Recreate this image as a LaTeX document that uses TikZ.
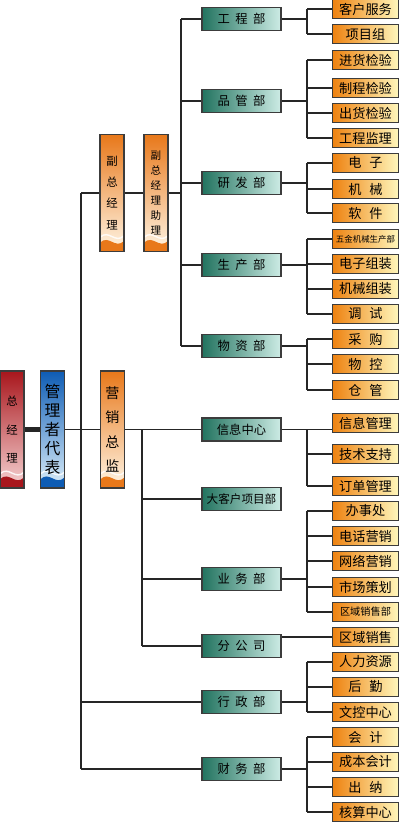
\documentclass[tikz,border=0pt]{standalone}
\usepackage{fontspec}
\setmainfont{Noto Sans CJK SC}
\usetikzlibrary{positioning}
\usepackage{xcolor}
\definecolor{TealDark}{HTML}{22735F}
\definecolor{TealLight}{HTML}{CDECE5}
\definecolor{SubOrange}{HTML}{EE8210}
\definecolor{SubPale}{HTML}{FFF7BC}
\definecolor{BanOrange}{HTML}{E8781A}
\definecolor{BanYellow}{HTML}{FFF000}
\definecolor{BanPale}{HTML}{FFF6E6}
\definecolor{RedDark}{HTML}{A8161C}
\definecolor{RedPale}{HTML}{F7D4D4}
\definecolor{BlueDark}{HTML}{0E5CB4}
\definecolor{BluePale}{HTML}{DDEFFA}
\definecolor{EdgeGray}{HTML}{3C3C3C}
\newcommand\chgap{\hspace{.45em}}

\tikzset{
  wave/.style={path picture={
    \fill[#1] (path picture bounding box.south west) -- ([yshift=5pt]path picture bounding box.south west)
      .. controls ([xshift=5pt,yshift=10pt]path picture bounding box.south west) and ([xshift=-5pt,yshift=1pt]path picture bounding box.south east)
      .. ([yshift=6pt]path picture bounding box.south east) -- (path picture bounding box.south east) -- cycle;
    \draw[white,line width=.8pt,opacity=.85] ([yshift=8pt]path picture bounding box.south west)
      .. controls ([xshift=5pt,yshift=13pt]path picture bounding box.south west) and ([xshift=-5pt,yshift=4pt]path picture bounding box.south east)
      .. ([yshift=9pt]path picture bounding box.south east);}},
  banner/.style={draw=EdgeGray,line width=.6pt,minimum width=.48cm,minimum height=2.34cm,
    inner sep=0pt,align=center},
  redbanner/.style={banner,top color=RedDark,bottom color=RedPale,wave=RedDark},
  bluebanner/.style={banner,top color=BlueDark,bottom color=BluePale,wave=BlueDark},
  orangebanner/.style={banner,top color=BanOrange,middle color=BanYellow,bottom color=BanPale,wave=BanOrange},
  dept/.style={draw=EdgeGray,line width=.6pt,left color=TealDark,right color=TealLight,
    minimum width=1.58cm,minimum height=.46cm,inner sep=0pt,font=\fontsize{7}{8}\selectfont},
  unit/.style={draw=EdgeGray,line width=.6pt,left color=SubOrange,right color=SubPale,
    minimum width=1.32cm,minimum height=.37cm,inner sep=0pt,font=\fontsize{7.5}{8}\selectfont},
  link/.style={line width=1pt,draw=black!85}
}

\begin{document}
\begin{tikzpicture}[x=0.02cm,y=-0.02cm]
  \useasboundingbox (0,0) rectangle (400,822);

  % banners
  \node[redbanner,font=\fontsize{6.5}{16}\selectfont] (zjl) at (12,429.5) {总\\经\\理};
  \node[bluebanner,font=\fontsize{9}{10.8}\selectfont] (glz) at (52.5,429.5) {管\\理\\者\\代\\表};
  \node[orangebanner,font=\fontsize{6.5}{12}\selectfont] (fzjl) at (112,193) {副\\总\\经\\理};
  \node[orangebanner,font=\fontsize{6}{8.5}\selectfont] (fzzl) at (156,193) {副\\总\\经\\理\\助\\理};
  \node[orangebanner,font=\fontsize{8}{14}\selectfont] (yxzj) at (112.5,429.5) {营\\销\\总\\监};

  % trunk lines
  \coordinate (trunk) at (81,0);
  \coordinate (rd) at (181,0);
  \coordinate (mk) at (142,0);
  \coordinate (sub) at (307,0);

  % departments
  \node[dept] (gcb) at (241.5,19) {工\chgap 程\chgap 部};
  \node[dept] (pgb) at (241.5,101) {品\chgap 管\chgap 部};
  \node[dept] (yfb) at (241.5,183) {研\chgap 发\chgap 部};
  \node[dept] (scb) at (241.5,265) {生\chgap 产\chgap 部};
  \node[dept] (wzb) at (241.5,346) {物\chgap 资\chgap 部};
  \node[dept] (xxzx) at (241.5,429.5) {信息中心};
  \node[dept,font=\fontsize{6.6}{8}\selectfont] (dkh) at (241.5,499) {大客户项目部};
  \node[dept] (ywb) at (241.5,579) {业\chgap 务\chgap 部};
  \node[dept] (fgs) at (241.5,646) {分\chgap 公\chgap 司};
  \node[dept] (xzb) at (241.5,702) {行\chgap 政\chgap 部};
  \node[dept] (cwb) at (241.5,769) {财\chgap 务\chgap 部};

  % units
  \node[unit] (khfw) at (365.5,9) {客户服务};
  \node[unit] (xmz) at (365.5,34) {项目组};
  \node[unit] (jhjy) at (365.5,60) {进货检验};
  \node[unit] (zcjy) at (365.5,88) {制程检验};
  \node[unit] (chjy) at (365.5,113) {出货检验};
  \node[unit] (gcjl) at (365.5,138) {工程监理};
  \node[unit] (dz) at (365.5,163) {电\hspace{.6em}子};
  \node[unit] (jx) at (365.5,189) {机\hspace{.6em}械};
  \node[unit] (rj) at (365.5,213) {软\hspace{.6em}件};
  \node[unit,font=\fontsize{4.8}{6}\selectfont] (wjsc) at (365.5,239) {五金机械生产部};
  \node[unit] (dzzz) at (365.5,264) {电子组装};
  \node[unit] (jxzz) at (365.5,289) {机械组装};
  \node[unit] (ts) at (365.5,314) {调\hspace{.6em}试};
  \node[unit] (cg) at (365.5,339) {采\hspace{.6em}购};
  \node[unit] (wk) at (365.5,364) {物\hspace{.6em}控};
  \node[unit] (cgu) at (365.5,390) {仓\hspace{.6em}管};
  \node[unit] (xxgl) at (365.5,423) {信息管理};
  \node[unit] (jszc) at (365.5,454) {技术支持};
  \node[unit] (ddgl) at (365.5,486) {订单管理};
  \node[unit] (bsc) at (365.5,511) {办事处};
  \node[unit] (dhyx) at (365.5,536) {电话营销};
  \node[unit] (wlyx) at (365.5,561) {网络营销};
  \node[unit] (scch) at (365.5,587) {市场策划};
  \node[unit,font=\fontsize{5.8}{7}\selectfont] (qyxsb) at (365.5,612) {区域销售部};
  \node[unit] (qyxs) at (365.5,637) {区域销售};
  \node[unit] (rlzy) at (365.5,662) {人力资源};
  \node[unit] (hq) at (365.5,687) {后\hspace{.6em}勤};
  \node[unit] (wkzx) at (365.5,712) {文控中心};
  \node[unit] (kj) at (365.5,737) {会\hspace{.6em}计};
  \node[unit] (cbkj) at (365.5,762) {成本会计};
  \node[unit] (cn) at (365.5,787) {出\hspace{.6em}纳};
  \node[unit] (hszx) at (365.5,812) {核算中心};

  % top level links
  \draw[link,line width=2.6pt] (zjl.east) -- (glz.west);
  \draw[link] (glz.east) -- (yxzj.west);
  \draw[link] (trunk |- fzjl) -- (trunk |- cwb);
  \draw[link] (trunk |- fzjl) -- (fzjl.west);
  \draw[link] (fzjl.east) -- (fzzl.west);
  \draw[link] (fzzl.east) -- (rd |- fzzl);
  \foreach \d in {xzb,cwb} \draw[link] (trunk |- \d) -- (\d.west);
  \draw[link] (rd |- gcb) -- (rd |- wzb);
  \foreach \d in {gcb,pgb,yfb,scb,wzb} \draw[link] (rd |- \d) -- (\d.west);
  \draw[link] (yxzj.east) -- (xxzx.west);
  \draw[link] (mk |- yxzj) -- (mk |- fgs);
  \foreach \d in {dkh,ywb,fgs} \draw[link] (mk |- \d) -- (\d.west);

  % department to unit links
  \draw[link] (gcb.east) -- (sub |- gcb) (sub |- khfw) -- (sub |- xmz);
  \foreach \k in {khfw,xmz} \draw[link] (sub |- \k) -- (\k.west);
  \draw[link] (pgb.east) -- (sub |- pgb) (sub |- jhjy) -- (sub |- gcjl);
  \foreach \k in {jhjy,zcjy,chjy,gcjl} \draw[link] (sub |- \k) -- (\k.west);
  \draw[link] (yfb.east) -- (sub |- yfb) (sub |- dz) -- (sub |- rj);
  \foreach \k in {dz,jx,rj} \draw[link] (sub |- \k) -- (\k.west);
  \draw[link] (scb.east) -- (sub |- scb) (sub |- wjsc) -- (sub |- ts);
  \foreach \k in {wjsc,dzzz,jxzz,ts} \draw[link] (sub |- \k) -- (\k.west);
  \draw[link] (wzb.east) -- (sub |- wzb) (sub |- cg) -- (sub |- cgu);
  \foreach \k in {cg,wk,cgu} \draw[link] (sub |- \k) -- (\k.west);
  \draw[link] (xxzx.east) -- (xxgl.west |- xxzx) (sub |- xxzx) -- (sub |- ddgl);
  \foreach \k in {jszc,ddgl} \draw[link] (sub |- \k) -- (\k.west);
  \draw[link] (ywb.east) -- (sub |- ywb) (sub |- bsc) -- (sub |- qyxsb);
  \foreach \k in {bsc,dhyx,wlyx,scch,qyxsb} \draw[link] (sub |- \k) -- (\k.west);
  \draw[link] (fgs.east |- qyxs) -- (qyxs.west);
  \draw[link] (xzb.east) -- (sub |- xzb) (sub |- rlzy) -- (sub |- wkzx);
  \foreach \k in {rlzy,hq,wkzx} \draw[link] (sub |- \k) -- (\k.west);
  \draw[link] (cwb.east) -- (sub |- cwb) (sub |- kj) -- (sub |- hszx);
  \foreach \k in {kj,cbkj,cn,hszx} \draw[link] (sub |- \k) -- (\k.west);
\end{tikzpicture}
\end{document}
